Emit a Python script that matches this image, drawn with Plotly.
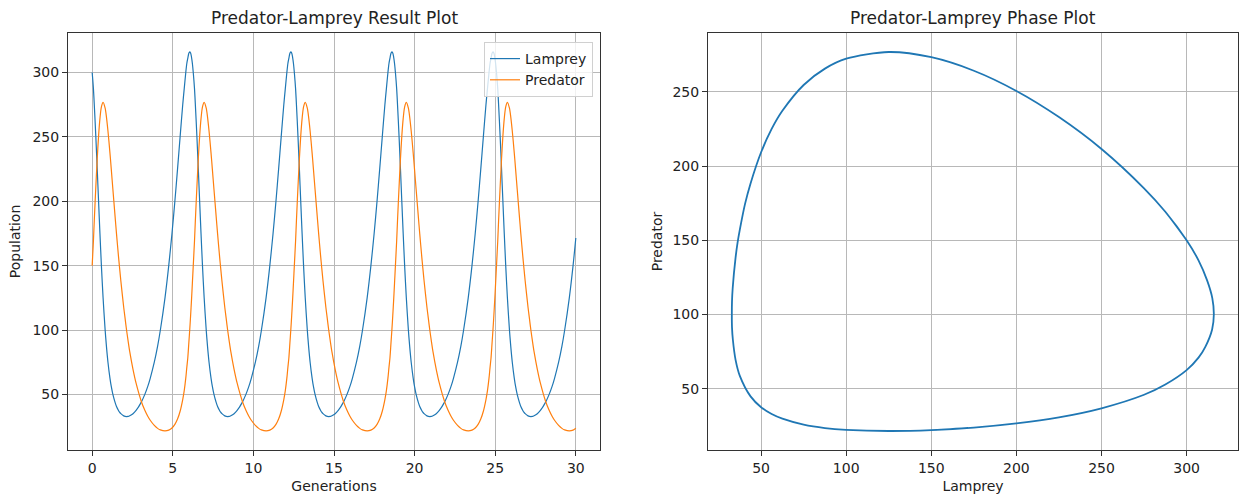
import plotly.graph_objects as go

# ---- Data (one list per cycle, joined below) ----
gen_c0 = [0.000, 0.077, 0.130, 0.227, 0.313, 0.396, 0.481, 0.572, 0.676, 0.804,
          0.883, 0.979, 1.104, 1.184, 1.284, 1.420, 1.509, 1.632, 1.697, 1.777,
          1.955, 2.044, 2.132, 2.230, 2.330, 2.532, 2.723, 3.039, 3.266, 3.448,
          3.600, 3.853, 4.059, 4.230, 4.516, 4.749, 4.950, 5.129, 5.294, 5.454,
          5.616, 5.710, 5.805, 5.870, 5.930, 5.995]
lam_c0 = [300.0, 287.5, 275.0, 250.0, 225.0, 200.0, 175.0, 150.0, 125.0, 100.0,
          87.5, 75.0, 62.5, 56.2, 50.0, 43.8, 40.6, 37.5, 36.2, 35.0,
          33.3, 32.9, 32.8, 32.9, 33.4, 35.0, 37.5, 43.8, 50.0, 56.2,
          62.5, 75.0, 87.5, 100.0, 125.0, 150.0, 175.0, 200.0, 225.0, 250.0,
          275.0, 287.5, 300.0, 307.0, 311.0, 315.0]
pred_c0 = [150.0, 169.2, 185.0, 211.5, 233.0, 250.6, 264.2, 273.3, 276.8, 272.3,
           265.6, 254.6, 237.2, 225.0, 209.3, 188.3, 174.7, 157.2, 148.6, 138.3,
           117.7, 108.8, 100.0, 91.4, 83.2, 69.5, 58.7, 44.9, 37.6, 33.0,
           29.9, 25.9, 23.6, 22.4, 21.6, 22.2, 23.9, 26.7, 30.8, 36.9,
           46.0, 52.9, 62.6, 71.0, 78.3, 90.0]

gen_c1 = [6.050, 6.105, 6.160, 6.215, 6.270, 6.347, 6.400, 6.497, 6.583, 6.666,
          6.751, 6.842, 6.946, 7.074, 7.153, 7.249, 7.374, 7.454, 7.554, 7.690,
          7.779, 7.902, 7.967, 8.047, 8.225, 8.314, 8.402, 8.500, 8.600, 8.802,
          8.993, 9.309, 9.536, 9.718, 9.870, 10.123, 10.329, 10.500, 10.786, 11.019,
          11.220, 11.399, 11.564, 11.724, 11.886, 11.980, 12.075, 12.140, 12.200, 12.265]
gen_c2 = [12.320, 12.375, 12.430, 12.485, 12.540, 12.617, 12.670, 12.767, 12.853, 12.936,
          13.021, 13.112, 13.216, 13.344, 13.423, 13.519, 13.644, 13.724, 13.824, 13.960,
          14.049, 14.172, 14.237, 14.317, 14.495, 14.584, 14.672, 14.770, 14.870, 15.072,
          15.263, 15.579, 15.806, 15.988, 16.140, 16.393, 16.599, 16.770, 17.056, 17.289,
          17.490, 17.669, 17.834, 17.994, 18.156, 18.250, 18.345, 18.410, 18.470, 18.535]
gen_c3 = [18.590, 18.645, 18.700, 18.755, 18.810, 18.887, 18.940, 19.037, 19.123, 19.206,
          19.291, 19.382, 19.486, 19.614, 19.693, 19.789, 19.914, 19.994, 20.094, 20.230,
          20.319, 20.442, 20.507, 20.587, 20.765, 20.854, 20.942, 21.040, 21.140, 21.342,
          21.533, 21.849, 22.076, 22.258, 22.410, 22.663, 22.869, 23.040, 23.326, 23.559,
          23.760, 23.939, 24.104, 24.264, 24.426, 24.520, 24.615, 24.680, 24.740, 24.805]
lam_cyc = [316.0, 315.1, 312.0, 307.0, 300.0, 287.5, 275.0, 250.0, 225.0, 200.0,
           175.0, 150.0, 125.0, 100.0, 87.5, 75.0, 62.5, 56.2, 50.0, 43.8,
           40.6, 37.5, 36.2, 35.0, 33.3, 32.9, 32.8, 32.9, 33.4, 35.0,
           37.5, 43.8, 50.0, 56.2, 62.5, 75.0, 87.5, 100.0, 125.0, 150.0,
           175.0, 200.0, 225.0, 250.0, 275.0, 287.5, 300.0, 307.0, 311.0, 315.0]
pred_cyc = [100.0, 111.1, 123.2, 136.5, 150.0, 169.2, 185.0, 211.5, 233.0, 250.6,
            264.2, 273.3, 276.8, 272.3, 265.6, 254.6, 237.2, 225.0, 209.3, 188.3,
            174.7, 157.2, 148.6, 138.3, 117.7, 108.8, 100.0, 91.4, 83.2, 69.5,
            58.7, 44.9, 37.6, 33.0, 29.9, 25.9, 23.6, 22.4, 21.6, 22.2,
            23.9, 26.7, 30.8, 36.9, 46.0, 52.9, 62.6, 71.0, 78.3, 90.0]

gen_c4 = [24.860, 24.915, 24.970, 25.025, 25.080, 25.157, 25.210, 25.307, 25.393, 25.476,
          25.561, 25.652, 25.756, 25.884, 25.963, 26.059, 26.184, 26.264, 26.364, 26.500,
          26.589, 26.712, 26.777, 26.857, 27.035, 27.124, 27.212, 27.310, 27.410, 27.612,
          27.803, 28.119, 28.346, 28.528, 28.680, 28.933, 29.139, 29.310, 29.596, 29.829,
          30.000]
lam_c4 = [316.0, 315.1, 312.0, 307.0, 300.0, 287.5, 275.0, 250.0, 225.0, 200.0,
          175.0, 150.0, 125.0, 100.0, 87.5, 75.0, 62.5, 56.2, 50.0, 43.8,
          40.6, 37.5, 36.2, 35.0, 33.3, 32.9, 32.8, 32.9, 33.4, 35.0,
          37.5, 43.8, 50.0, 56.2, 62.5, 75.0, 87.5, 100.0, 125.0, 150.0,
          171.5]
pred_c4 = [100.0, 111.1, 123.2, 136.5, 150.0, 169.2, 185.0, 211.5, 233.0, 250.6,
           264.2, 273.3, 276.8, 272.3, 265.6, 254.6, 237.2, 225.0, 209.3, 188.3,
           174.7, 157.2, 148.6, 138.3, 117.7, 108.8, 100.0, 91.4, 83.2, 69.5,
           58.7, 44.9, 37.6, 33.0, 29.9, 25.9, 23.6, 22.4, 21.6, 22.2,
           23.7]

generations = gen_c0 + gen_c1 + gen_c2 + gen_c3 + gen_c4
lamprey = lam_c0 + lam_cyc + lam_cyc + lam_cyc + lam_c4
predator = pred_c0 + pred_cyc + pred_cyc + pred_cyc + pred_c4

gen_ticks = [0, 5, 10, 15, 20, 25, 30]
pop_ticks = [50, 100, 150, 200, 250, 300]
lamprey_ticks = [50, 100, 150, 200, 250, 300]
predator_ticks = [50, 100, 150, 200, 250]

TEXT = "#222222"
FONT = "DejaVu Sans"

fig = go.Figure()
fig.add_trace(go.Scatter(
    x=generations, y=lamprey, name="Lamprey", mode="lines",
    line=dict(color="#1f77b4", width=1.2, shape="spline", smoothing=0.8),
    xaxis="x", yaxis="y"))
fig.add_trace(go.Scatter(
    x=generations, y=predator, name="Predator", mode="lines",
    line=dict(color="#ff7f0e", width=1.2, shape="spline", smoothing=0.8),
    xaxis="x", yaxis="y"))
fig.add_trace(go.Scatter(
    x=lamprey, y=predator, name="Phase", mode="lines", showlegend=False,
    line=dict(color="#1f77b4", width=1.8, shape="spline", smoothing=0.8),
    xaxis="x2", yaxis="y2"))

def axis_style(**kw):
    d = dict(showline=True, mirror=True, linecolor="#333333", linewidth=1,
             ticks="outside", ticklen=5, tickwidth=1, tickcolor="#333333",
             showgrid=True, gridcolor="#b8b8b8", gridwidth=0.8, zeroline=False,
             tickfont=dict(family=FONT, size=14, color=TEXT),
             title_font=dict(family=FONT, size=14, color=TEXT))
    d.update(kw)
    return d

ydom = [49 / 499, 466 / 499]

fig.update_layout(
    width=1240, height=499,
    margin=dict(l=0, r=0, t=0, b=0),
    paper_bgcolor="white", plot_bgcolor="white",
    font=dict(family=FONT, color=TEXT),
    xaxis=axis_style(domain=[68 / 1240, 600 / 1240], range=[-1.5, 31.5],
                     tickvals=gen_ticks, anchor="y",
                     title=dict(text="Generations", standoff=6)),
    yaxis=axis_style(domain=ydom, range=[6.8, 330.7], tickvals=pop_ticks,
                     anchor="x", title=dict(text="Population", standoff=8)),
    xaxis2=axis_style(domain=[708 / 1240, 1238 / 1240], range=[18.8, 330.2],
                      tickvals=lamprey_ticks, anchor="y2",
                      title=dict(text="Lamprey", standoff=6)),
    yaxis2=axis_style(domain=ydom, range=[8.8, 289.6], tickvals=predator_ticks,
                      anchor="x2", title=dict(text="Predator", standoff=6)),
    legend=dict(x=593 / 1240, y=1 - 42 / 499, xanchor="right", yanchor="top",
                bgcolor="rgba(255,255,255,0.8)", bordercolor="#d0d0d0",
                borderwidth=1, font=dict(family=FONT, size=14, color=TEXT)),
    showlegend=True,
    annotations=[
        dict(text="Predator-Lamprey Result Plot", x=334 / 1240, y=1 - 18 / 499,
             xref="paper", yref="paper", xanchor="center", yanchor="middle",
             showarrow=False, font=dict(family=FONT, size=17, color=TEXT)),
        dict(text="Predator-Lamprey Phase Plot", x=973 / 1240, y=1 - 18 / 499,
             xref="paper", yref="paper", xanchor="center", yanchor="middle",
             showarrow=False, font=dict(family=FONT, size=17, color=TEXT)),
    ],
)

fig.write_html("out.html",
               config={"displayModeBar": False},
               post_script="document.body.style.margin='0px';document.body.style.overflow='hidden';")
